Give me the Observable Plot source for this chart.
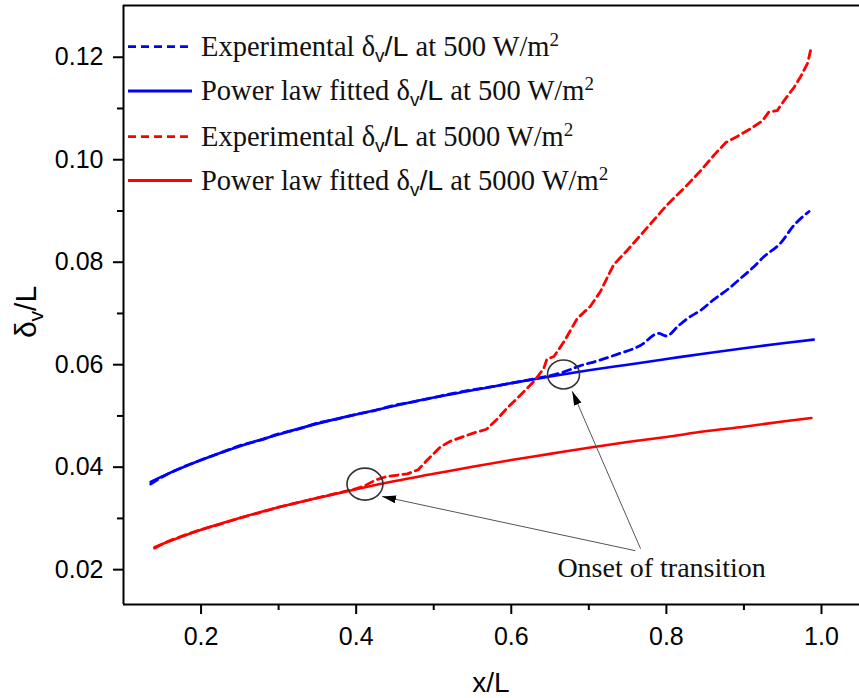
<!DOCTYPE html>
<html><head><meta charset="utf-8">
<script src="https://cdn.jsdelivr.net/npm/d3@7"></script>
<script src="https://cdn.jsdelivr.net/npm/@observablehq/plot@0.6"></script>
<style>body{margin:0;background:#fff} svg{display:block}</style>
</head><body><div id="chart"></div>
<script>
// ---------- data ----------
const blueExpX = [0.135,0.15,0.175,0.2,0.225,0.25,0.275,0.3,0.325,0.35,0.375,0.4,0.425,0.45,0.475,0.5,0.525,0.55,0.575,0.6,0.625,0.645,0.668,0.689,0.71,0.732,0.767,0.79,0.8,0.815,0.827,0.845,0.861,0.88,0.896,0.912,0.926,0.947,0.965,0.984];
const blueExpY = [0.0367,0.0381,0.0399,0.0414,0.0428,0.0442,0.0452,0.0465,0.0474,0.0486,0.0494,0.0503,0.0511,0.0521,0.0528,0.0536,0.0544,0.0551,0.0557,0.0564,0.0571,0.0577,0.0586,0.0598,0.0607,0.0618,0.0638,0.0661,0.0656,0.0675,0.0690,0.0707,0.0727,0.0748,0.0769,0.0790,0.0811,0.0837,0.0873,0.0899];

const blueFitX = [0.135,0.15,0.2,0.25,0.3,0.35,0.4,0.45,0.5,0.55,0.6,0.65,0.7,0.75,0.8,0.85,0.9,0.95,0.99];
const blueFitY = [0.0371,0.0382,0.0414,0.0441,0.0464,0.0485,0.0503,0.0520,0.0536,0.0550,0.0564,0.0577,0.0589,0.0600,0.0611,0.0622,0.0632,0.0642,0.0649];

const redExpX = [0.14,0.16,0.18,0.2,0.225,0.25,0.275,0.3,0.325,0.35,0.375,0.4,0.41,0.425,0.44,0.466,0.48,0.491,0.509,0.522,0.552,0.568,0.582,0.595,0.612,0.629,0.642,0.646,0.655,0.668,0.685,0.702,0.715,0.732,0.75,0.775,0.801,0.827,0.845,0.862,0.877,0.892,0.908,0.924,0.932,0.943,0.952,0.965,0.973,0.982,0.986];
const redExpY = [0.0242,0.0257,0.0268,0.0278,0.0289,0.0301,0.0311,0.0322,0.0331,0.0340,0.0349,0.0358,0.0363,0.0375,0.0382,0.0387,0.0395,0.0413,0.0440,0.0451,0.0467,0.0474,0.0494,0.0516,0.0541,0.0567,0.0593,0.0611,0.0616,0.0645,0.0690,0.0714,0.0743,0.0795,0.0824,0.0867,0.0912,0.0951,0.0980,0.1010,0.1034,0.1046,0.1060,0.1076,0.1093,0.1096,0.1116,0.1142,0.1162,0.1188,0.1214];

const redFitX = [0.14,0.15,0.2,0.25,0.3,0.35,0.4,0.45,0.5,0.55,0.6,0.65,0.7,0.75,0.8,0.85,0.9,0.95,0.987];
const redFitY = [0.0244,0.0250,0.0278,0.0301,0.0322,0.0340,0.0357,0.0373,0.0387,0.0401,0.0414,0.0426,0.0438,0.0449,0.0459,0.0470,0.0479,0.0489,0.0496];

const xMajor = [0.2,0.4,0.6,0.8,1.0];
const xMinor = [0.3,0.5,0.7,0.9];
const yMajor = [0.02,0.04,0.06,0.08,0.10,0.12];
const yMinor = [0.03,0.05,0.07,0.09,0.11];

// onset-of-transition markers (centre of ellipse) and arrows (from label to ellipse)
const onsetX = [0.412, 0.668];
const onsetY = [0.0366, 0.0580];
const arrowFromX = [0.760, 0.7667];
const arrowFromY = [0.0237, 0.0241];
const arrowToX = [0.4334, 0.6786];
const arrowToY = [0.0343, 0.0548];

const seriesNames = ["Experimental","Power law fitted","Experimental","Power law fitted"];
const seriesFlux = ["500","500","5000","5000"];
const seriesColor = ["#0000ff","#0000ff","#ff0000","#ff0000"];
const seriesDash = [true,false,true,false];

// ---------- build ----------
const toRows = (xs, ys) => xs.map((x, i) => ({x, y: ys[i]}));
const blueExp = toRows(blueExpX, blueExpY);
const blueFit = toRows(blueFitX, blueFitY);
const redExp = toRows(redExpX, redExpY);
const redFit = toRows(redFitX, redFitY);
const arrows = arrowFromX.map((x, i) => ({x1: x, y1: arrowFromY[i], x2: arrowToX[i], y2: arrowToY[i]}));

const X0 = 0.1, X1 = 1.049, Y0 = 0.0132, Y1 = 0.1301;
const dash = "8,5";

const chart = Plot.plot({
  width: 859, height: 698,
  marginLeft: 123, marginRight: 0, marginTop: 5, marginBottom: 94,
  style: {fontFamily: "'Liberation Sans', Arial, sans-serif", background: "#fff", color: "#000"},
  x: {domain: [X0, X1]},
  y: {domain: [Y0, Y1]},
  marks: [
    Plot.axisX(xMinor, {tickSize: 6, strokeWidth: 2, tickFormat: () => "", label: null}),
    Plot.axisX(xMajor, {tickSize: 10, tickPadding: 13, strokeWidth: 2, fontSize: 25, tickFormat: d3.format(".1f"), label: null}),
    Plot.axisY(yMinor, {tickSize: 6, strokeWidth: 2, tickFormat: () => "", label: null}),
    Plot.axisY(yMajor, {tickSize: 10, tickPadding: 10, strokeWidth: 2, fontSize: 25, tickFormat: d3.format(".2f"), label: null}),
    Plot.ruleX([X0], {strokeWidth: 2}),
    Plot.ruleY([Y0, Y1], {strokeWidth: 2}),
    Plot.line(blueFit, {x: "x", y: "y", stroke: seriesColor[1], strokeWidth: 2.6, curve: "monotone-x"}),
    Plot.line(redFit, {x: "x", y: "y", stroke: seriesColor[3], strokeWidth: 2.6, curve: "monotone-x"}),
    Plot.line(blueExp, {x: "x", y: "y", stroke: seriesColor[0], strokeWidth: 2.8, strokeDasharray: dash, curve: "monotone-x"}),
    Plot.line(redExp, {x: "x", y: "y", stroke: seriesColor[2], strokeWidth: 2.8, strokeDasharray: dash, curve: "linear"}),
    Plot.link(arrows, {x1: "x1", y1: "y1", x2: "x2", y2: "y2", stroke: "#555", strokeWidth: 1}),
    Plot.text(["Onset of transition"], {x: [0.7938], y: [0.0203], text: d => d, fontFamily: "'Liberation Serif', 'Times New Roman', serif", fontSize: 28, fill: "#111", textAnchor: "middle"})
  ]
});

document.getElementById("chart").appendChild(chart);

const svg = d3.select(chart);
const sx = chart.scale("x"), sy = chart.scale("y");

// arrowheads
const defs = svg.append("defs");
defs.append("marker").attr("id", "ahead")
  .attr("viewBox", "0 0 14 8").attr("refX", 14).attr("refY", 4)
  .attr("markerWidth", 14).attr("markerHeight", 8)
  .attr("markerUnits", "userSpaceOnUse").attr("orient", "auto")
  .append("path").attr("d", "M0,0L14,4L0,8Z").attr("fill", "#000");
svg.selectAll('g[aria-label="link"] path').attr("marker-end", "url(#ahead)");

// ellipses around the onset points
onsetX.forEach((x, i) => {
  svg.append("ellipse")
    .attr("cx", sx.apply(x)).attr("cy", sy.apply(onsetY[i]))
    .attr("rx", i === 0 ? 18 : 16).attr("ry", i === 0 ? 16 : 14.5)
    .attr("fill", "none").attr("stroke", "#333").attr("stroke-width", 1.6);
});

// axis titles
const sans = "'Liberation Sans', Arial, sans-serif";
const serif = "'Liberation Serif', 'Times New Roman', serif";
svg.append("text").attr("x", (123 + 859) / 2).attr("y", 692)
  .attr("text-anchor", "middle").attr("font-family", sans).attr("font-size", 28).attr("fill", "#000")
  .text("x/L");
const yl = svg.append("text").attr("transform", "translate(36,312) rotate(-90)")
  .attr("text-anchor", "middle").attr("font-family", sans).attr("font-size", 30).attr("fill", "#000");
yl.append("tspan").text("δ");
yl.append("tspan").attr("font-size", 21).attr("dy", 7).text("v");
yl.append("tspan").attr("dy", -7).text("/L");

// legend
const legY = [46.7, 91, 136.7, 180.5];
const leg = svg.append("g").attr("text-anchor", "start");
seriesNames.forEach((name, i) => {
  leg.append("line").attr("x1", 128).attr("x2", 192).attr("y1", legY[i]).attr("y2", legY[i])
    .attr("stroke", seriesColor[i]).attr("stroke-width", 2.8)
    .attr("stroke-dasharray", seriesDash[i] ? "8,5" : null);
  const t = leg.append("text").attr("x", 201).attr("y", legY[i] + 9).attr("text-anchor", "start")
    .attr("font-family", serif).attr("font-size", 28.5).attr("fill", "#111");
  t.append("tspan").text(name + " δ");
  t.append("tspan").attr("font-family", sans).attr("font-size", 19).attr("dy", 6).text("v");
  t.append("tspan").attr("font-family", sans).attr("dy", -6).text("/L");
  t.append("tspan").text(" at " + seriesFlux[i] + " W/m");
  t.append("tspan").attr("font-size", 19).attr("dy", -10).text("2");
});
</script></body></html>
